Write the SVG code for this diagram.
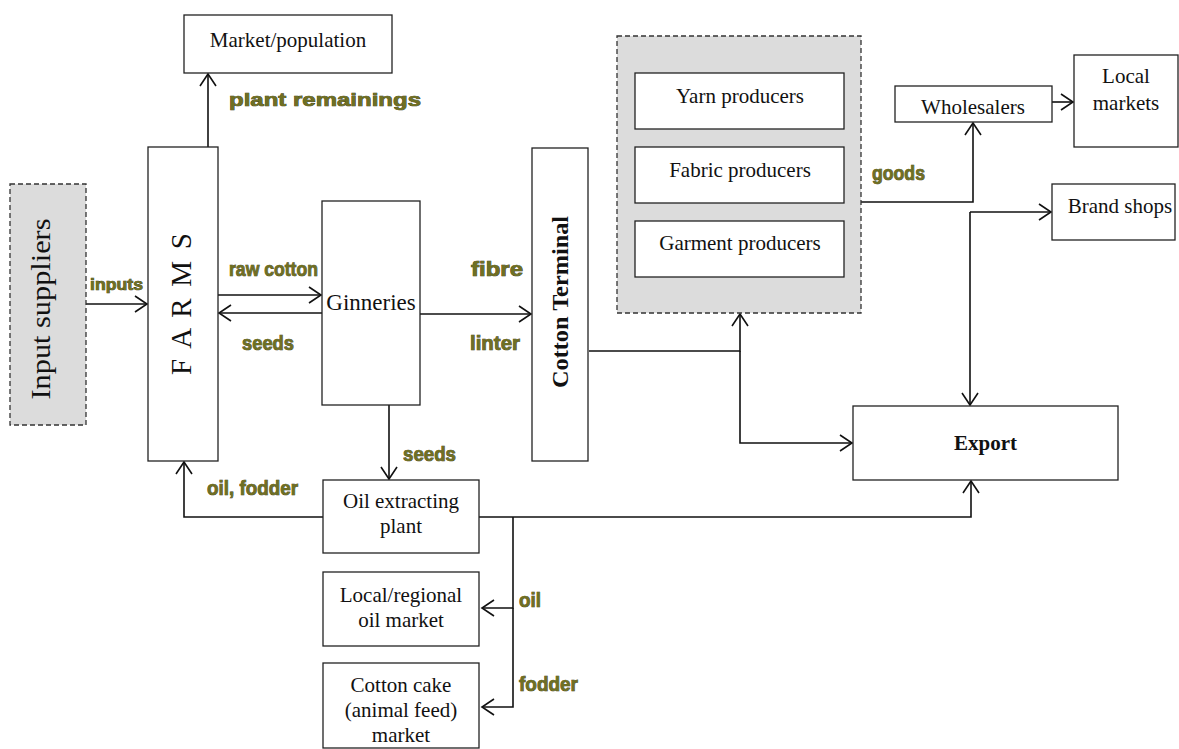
<svg xmlns="http://www.w3.org/2000/svg" width="1179" height="749" viewBox="0 0 1179 749">
  <defs>
    <marker id="arr" markerUnits="userSpaceOnUse" markerWidth="16" markerHeight="20" refX="13" refY="9" orient="auto">
      <path d="M1,1 L13,9 L1,17" fill="none" stroke="#111" stroke-width="1.6"/>
    </marker>
    <style>
      .box { fill: #fff; stroke: #222; stroke-width: 1.3; }
      .grp { fill: #dcdcdc; stroke: #333; stroke-width: 1.3; stroke-dasharray: 5 3; }
      .t { font-family: "Liberation Serif", "Times New Roman", serif; fill: #111; text-anchor: middle; }
      .m { font-size: 21px; }
      .lbl { font-family: "Liberation Sans", Arial, sans-serif; font-weight: bold; fill: #6f6f22; stroke: #2e2e08; stroke-width: 0.7; paint-order: stroke; }
      .ln { fill: none; stroke: #111; stroke-width: 1.6; }
    </style>
  </defs>
  <rect width="1179" height="749" fill="#fff"/>

  <!-- connectors -->
  <g id="connectors">
    <path class="ln" d="M86,304 H147" marker-end="url(#arr)"/>
    <path class="ln" d="M208,147 V74" marker-end="url(#arr)"/>
    <path class="ln" d="M218,295 H321" marker-end="url(#arr)"/>
    <path class="ln" d="M322,313 H219" marker-end="url(#arr)"/>
    <path class="ln" d="M420,314 H531" marker-end="url(#arr)"/>
    <path class="ln" d="M389,405 V479" marker-end="url(#arr)"/>
    <path class="ln" d="M589,351 H740 V314" marker-end="url(#arr)"/>
    <path class="ln" d="M740,351 V443 H852" marker-end="url(#arr)"/>
    <path class="ln" d="M861,202 H973 V123" marker-end="url(#arr)"/>
    <path class="ln" d="M1052,102 H1073" marker-end="url(#arr)"/>
    <path class="ln" d="M970,212 H1051" marker-end="url(#arr)"/>
    <path class="ln" d="M970,212 V405" marker-end="url(#arr)"/>
    <path class="ln" d="M323,517 H184 V462" marker-end="url(#arr)"/>
    <path class="ln" d="M479,517 H971 V481" marker-end="url(#arr)"/>
    <path class="ln" d="M513,517 V608 H482" marker-end="url(#arr)"/>
    <path class="ln" d="M513,608 V707 H482" marker-end="url(#arr)"/>
  </g>

  <!-- flow labels -->
  <g id="labels">
    <text class="lbl" x="229" y="106" font-size="19" textLength="192" lengthAdjust="spacingAndGlyphs">plant remainings</text>
    <text class="lbl" x="90" y="290" font-size="17" textLength="53" lengthAdjust="spacingAndGlyphs">inputs</text>
    <text class="lbl" x="229" y="276" font-size="20" textLength="89" lengthAdjust="spacingAndGlyphs">raw cotton</text>
    <text class="lbl" x="242" y="350" font-size="20" textLength="52" lengthAdjust="spacingAndGlyphs">seeds</text>
    <text class="lbl" x="471" y="276" font-size="20" textLength="52" lengthAdjust="spacingAndGlyphs">fibre</text>
    <text class="lbl" x="470" y="350" font-size="20" textLength="50" lengthAdjust="spacingAndGlyphs">linter</text>
    <text class="lbl" x="872" y="180" font-size="20" textLength="53" lengthAdjust="spacingAndGlyphs">goods</text>
    <text class="lbl" x="403" y="461" font-size="20" textLength="53" lengthAdjust="spacingAndGlyphs">seeds</text>
    <text class="lbl" x="207" y="495" font-size="20" textLength="91" lengthAdjust="spacingAndGlyphs">oil, fodder</text>
    <text class="lbl" x="519" y="607" font-size="20" textLength="22" lengthAdjust="spacingAndGlyphs">oil</text>
    <text class="lbl" x="519" y="691" font-size="20" textLength="59" lengthAdjust="spacingAndGlyphs">fodder</text>
  </g>

  <g id="input-suppliers">
    <rect class="grp" x="10" y="184" width="76" height="241"/>
    <text class="t" transform="translate(50,309) rotate(-90)" font-size="27" textLength="181" lengthAdjust="spacingAndGlyphs">Input suppliers</text>
  </g>

  <g id="farms">
    <rect class="box" x="148" y="147" width="70" height="314"/>
    <text class="t" transform="translate(191,304) rotate(-90)" font-size="29" textLength="142" lengthAdjust="spacing">F A R M S</text>
  </g>

  <g id="market-population">
    <rect class="box" x="184" y="15" width="208" height="58"/>
    <text class="t m" x="288" y="47">Market/population</text>
  </g>

  <g id="ginneries">
    <rect class="box" x="322" y="201" width="98" height="204"/>
    <text class="t" x="371" y="310" font-size="23">Ginneries</text>
  </g>

  <g id="cotton-terminal">
    <rect class="box" x="532" y="148" width="56" height="313"/>
    <text class="t" transform="translate(568,302) rotate(-90)" font-size="24" font-weight="bold" textLength="172" lengthAdjust="spacingAndGlyphs">Cotton Terminal</text>
  </g>

  <g id="producers">
    <rect class="grp" x="617" y="36" width="244" height="277"/>
    <g id="yarn-producers">
      <rect class="box" x="635" y="73" width="209" height="56"/>
      <text class="t m" x="740" y="103">Yarn producers</text>
    </g>
    <g id="fabric-producers">
      <rect class="box" x="635" y="147" width="209" height="56"/>
      <text class="t m" x="740" y="177">Fabric producers</text>
    </g>
    <g id="garment-producers">
      <rect class="box" x="635" y="221" width="209" height="56"/>
      <text class="t m" x="740" y="250">Garment producers</text>
    </g>
  </g>

  <g id="wholesalers">
    <rect class="box" x="895" y="86" width="157" height="36"/>
    <text class="t m" x="973" y="114">Wholesalers</text>
  </g>

  <g id="local-markets">
    <rect class="box" x="1074" y="55" width="104" height="92"/>
    <text class="t m" x="1126" y="83">Local</text>
    <text class="t m" x="1126" y="110">markets</text>
  </g>

  <g id="brand-shops">
    <rect class="box" x="1052" y="184" width="123" height="56"/>
    <text class="t m" x="1120" y="213">Brand shops</text>
  </g>

  <g id="export">
    <rect class="box" x="853" y="406" width="265" height="74"/>
    <text class="t m" x="985.5" y="450" font-weight="bold">Export</text>
  </g>

  <g id="oil-extracting-plant">
    <rect class="box" x="323" y="480" width="156" height="73"/>
    <text class="t m" x="401" y="508">Oil extracting</text>
    <text class="t m" x="401" y="533">plant</text>
  </g>

  <g id="oil-market">
    <rect class="box" x="323" y="572" width="156" height="74"/>
    <text class="t m" x="401" y="602">Local/regional</text>
    <text class="t m" x="401" y="627">oil market</text>
  </g>

  <g id="cotton-cake-market">
    <rect class="box" x="323" y="663" width="156" height="85"/>
    <text class="t m" x="401" y="692">Cotton cake</text>
    <text class="t m" x="401" y="717">(animal feed)</text>
    <text class="t m" x="401" y="742">market</text>
  </g>
</svg>
